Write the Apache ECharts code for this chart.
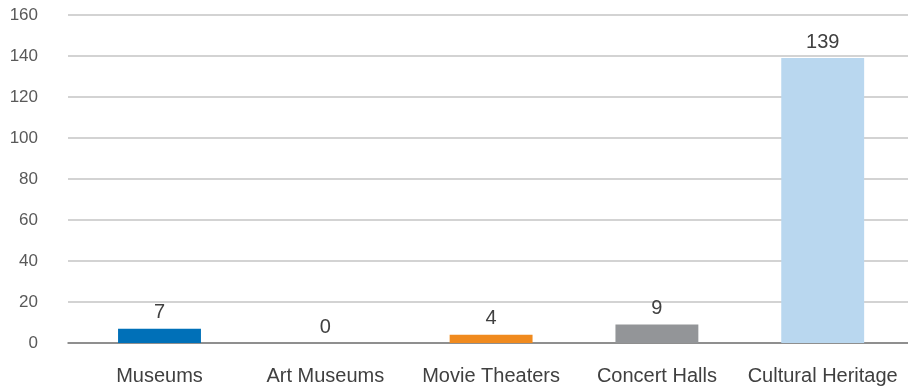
<!DOCTYPE html>
<html><head><meta charset="utf-8">
<script src="https://cdn.jsdelivr.net/npm/echarts@6/dist/echarts.min.js"></script>
<style>html,body{margin:0;padding:0;background:#fff}#c{width:908px;height:390px}</style>
</head><body><div id="c"></div>
<script>
const categories = ['Museums', 'Art Museums', 'Movie Theaters', 'Concert Halls', 'Cultural Heritage'];
const values = [7, 0, 4, 9, 139];
const barColors = ['#0070b8', '#0070b8', '#f08a1e', '#939598', '#b9d7ef'];
const yMin = 0, yMax = 160, yStep = 20;

const font = 'Liberation Sans, Arial, sans-serif';
const chart = echarts.init(document.getElementById('c'), null, {renderer: 'canvas'});
chart.setOption({
  animation: false,
  grid: [
    {left: 68, right: 0, top: 15, bottom: 47},
    {left: 76.6, right: 2.4, top: 15, bottom: 47}
  ],
  xAxis: [
    {gridIndex: 0, type: 'category', data: categories, axisLabel: {show: false}, axisTick: {show: false},
     axisLine: {show: true, lineStyle: {color: '#7a7a7a', width: 1.5}}},
    {gridIndex: 1, type: 'category', data: categories, axisTick: {show: false},
     axisLine: {show: false},
     axisLabel: {color: '#404040', fontSize: 20, fontFamily: font, margin: 23, interval: 0}}
  ],
  yAxis: [
    {gridIndex: 0, type: 'value', min: yMin, max: yMax, interval: yStep,
     axisLine: {show: false}, axisTick: {show: false},
     axisLabel: {color: '#595959', fontSize: 17, fontFamily: font, margin: 30},
     splitLine: {lineStyle: {color: '#c4c4c4', width: 1.5}}},
    {gridIndex: 1, type: 'value', min: yMin, max: yMax, interval: yStep, show: false}
  ],
  series: [{
    type: 'bar', xAxisIndex: 1, yAxisIndex: 1,
    data: values.map((v, i) => ({value: v, itemStyle: {color: barColors[i]}})),
    barWidth: '50%',
    label: {show: true, position: 'top', distance: 6, color: '#404040', fontSize: 20, fontFamily: font}
  }]
});
</script></body></html>
